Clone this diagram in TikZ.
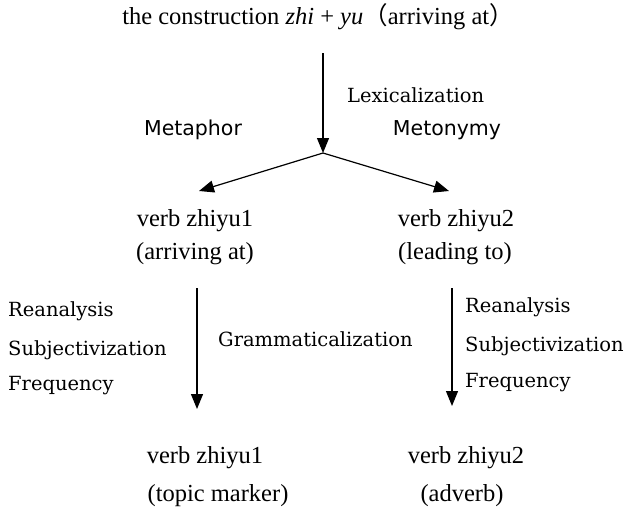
\documentclass[tikz,border=0pt]{standalone}
\usepackage{fontspec}
\setmainfont{Liberation Serif}
\newfontfamily\labelfont{DejaVu Serif}
\newfontfamily\plainsans{DejaVu Sans}
\newfontfamily\cjk{Noto Sans CJK SC}
\usetikzlibrary{arrows.meta}

\begin{document}
\begin{tikzpicture}[x=1pt,y=-1pt,
  term/.style={font=\fontsize{24.5}{28}\selectfont, inner sep=0pt, anchor=base},
  proc/.style={font=\labelfont\fontsize{19.5}{22}\selectfont, inner sep=0pt, anchor=base west},
  trope/.style={font=\plainsans\fontsize{20.5}{24}\selectfont, inner sep=0pt, anchor=base},
  flow/.style={line width=1.2pt, -{Triangle[length=15pt,width=12pt]}}]
\useasboundingbox (0,0) rectangle (632,512);

% source construction
\node[term] (top) at (318,24) {the construction \textit{zhi} + \textit{yu}{\cjk （}arriving at{\cjk ）}};

% lexicalization and the fork
\coordinate (start) at (323,53);
\coordinate (fork) at (323,153);
\draw[flow] (start) -- (fork);
\node[proc, anchor=base west] (lex) at (347,102) {Lexicalization};
\node[trope] (meta) at (193,135) {Metaphor};
\node[trope] (meto) at (447,135) {Metonymy};
\coordinate (leftend) at (199,191);
\coordinate (rightend) at (449,191);
\draw[flow] (fork) -- (leftend);
\draw[flow] (fork) -- (rightend);

% lexical verbs
\node[term] (v1) at (195,226) {verb zhiyu1};
\node[term] (v1g) at (195,259) {(arriving at)};
\node[term] (v2) at (456,226) {verb zhiyu2};
\node[term] (v2g) at (455,259) {(leading to)};

% grammaticalization arrows
\coordinate (l1) at (197,288);
\coordinate (l2) at (197,409);
\coordinate (r1) at (452,288);
\coordinate (r2) at (452,406);
\draw[flow] (l1) -- (l2);
\draw[flow] (r1) -- (r2);

\node[proc] (lra) at (8,316) {Reanalysis};
\node[proc] (lsu) at (8,355) {Subjectivization};
\node[proc] (lfr) at (8,390) {Frequency};
\node[proc] (gram) at (218,346) {Grammaticalization};
\node[proc] (rra) at (465,312) {Reanalysis};
\node[proc] (rsu) at (465,351) {Subjectivization};
\node[proc] (rfr) at (465,387) {Frequency};

% grammatical outcomes
\node[term] (g1) at (205,463) {verb zhiyu1};
\node[term] (g1g) at (218,501) {(topic marker)};
\node[term] (g2) at (466,463) {verb zhiyu2};
\node[term] (g2g) at (462,501) {(adverb)};
\end{tikzpicture}
\end{document}
